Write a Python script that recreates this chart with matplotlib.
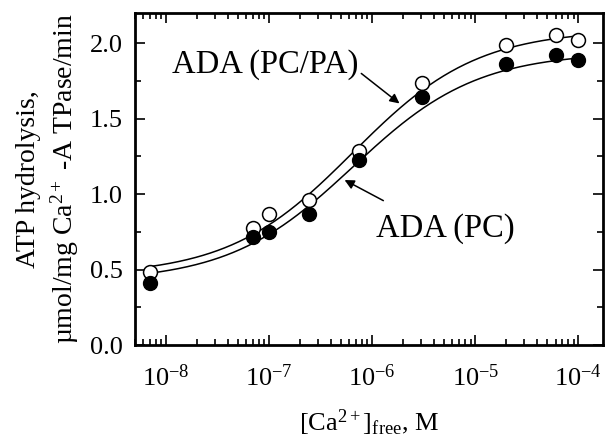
import matplotlib
matplotlib.use("Agg")
import matplotlib.pyplot as plt
import numpy as np
from matplotlib.ticker import LogLocator, FixedLocator, FuncFormatter, NullFormatter

plt.rcParams['font.family'] = ['Liberation Serif', 'DejaVu Serif']
plt.rcParams['mathtext.fontset'] = 'custom'
plt.rcParams['mathtext.rm'] = 'Liberation Serif'
plt.rcParams['mathtext.it'] = 'Liberation Serif:italic'

# measured points, free Ca2+ (M)
ca_free = [7e-9, 7e-8, 1e-7, 2.43e-7, 7.5e-7, 3.04e-6, 2e-5, 6.1e-5, 1e-4]
pc_pa = [0.485, 0.773, 0.866, 0.960, 1.287, 1.733, 1.99, 2.053, 2.018]
pc = [0.413, 0.717, 0.746, 0.866, 1.225, 1.644, 1.859, 1.92, 1.887]

# Hill fit parameters: bottom, top, EC50, n
fit_pc_pa = [0.46, 2.09, 6.5e-7, 0.72]
fit_pc = [0.42, 1.94, 6.5e-7, 0.72]


def hill(x, bottom, top, ec50, n):
    return bottom + (top - bottom) / (1 + (ec50 / x) ** n)


fig = plt.figure(figsize=(6.05, 4.43), dpi=100)
ax = fig.add_axes([0.223, 0.221, 0.774, 0.750])

xs = np.logspace(np.log10(7e-9), -4, 300)
ax.plot(xs, hill(xs, *fit_pc_pa), color='black', lw=1.1, zorder=2)
ax.plot(xs, hill(xs, *fit_pc), color='black', lw=1.1, zorder=2)

ax.plot(ca_free, pc_pa, 'o', ms=10, mfc='white', mec='black', mew=1.1, zorder=3)
ax.plot(ca_free, pc, 'o', ms=10, mfc='black', mec='black', zorder=4)

ax.set_xscale('log')
ax.set_xlim(5e-9, 1.74e-4)
ax.set_ylim(0, 2.2)

ax.yaxis.set_major_locator(FixedLocator([0, 0.5, 1.0, 1.5, 2.0]))
ax.yaxis.set_minor_locator(FixedLocator([0.25, 0.75, 1.25, 1.75]))
ax.yaxis.set_major_formatter(FuncFormatter(lambda v, p: f"{v:.1f}"))
ax.xaxis.set_major_locator(LogLocator(base=10, numticks=10))
ax.xaxis.set_minor_locator(LogLocator(base=10, subs=np.arange(2, 10), numticks=10))
ax.xaxis.set_minor_formatter(NullFormatter())
ax.xaxis.set_major_formatter(FuncFormatter(
    lambda v, p: r"$\mathrm{10^{%d}}$" % round(np.log10(v))))

ax.tick_params(which='both', direction='in', top=True, right=True,
               labelsize=19, width=1.2)
ax.tick_params(which='major', length=7)
ax.tick_params(which='minor', length=4)
ax.tick_params(axis='x', pad=14)
ax.tick_params(axis='y', pad=9)
for s in ax.spines.values():
    s.set_linewidth(2)

ax.set_xlabel(r"[Ca$^{\mathrm{2+}}$]$_{\mathrm{free}}$, M", fontsize=19, labelpad=12)
ax.set_ylabel("ATP hydrolysis,\n" + r"µmol/mg Ca$^{\mathrm{2+}}$ -A TPase/min",
              fontsize=20, linespacing=1.3)
ax.yaxis.set_label_coords(-0.116, 0.5)

ax.annotate("ADA (PC/PA)", xy=(1.84e-6, 1.60), xytext=(9.2e-8, 1.854),
            fontsize=23.5, ha='center', va='center',
            arrowprops=dict(arrowstyle='-|>', color='black', lw=1.1,
                            shrinkA=0, shrinkB=0, mutation_scale=14,
                            relpos=(1.0, 0.3)))
ax.annotate("ADA (PC)", xy=(5.4e-7, 1.093), xytext=(5.17e-6, 0.773),
            fontsize=23.5, ha='center', va='center',
            arrowprops=dict(arrowstyle='-|>', color='black', lw=1.1,
                            shrinkA=0, shrinkB=0, mutation_scale=14,
                            relpos=(0.05, 1.4)))

fig.savefig("out.png", dpi=100)
